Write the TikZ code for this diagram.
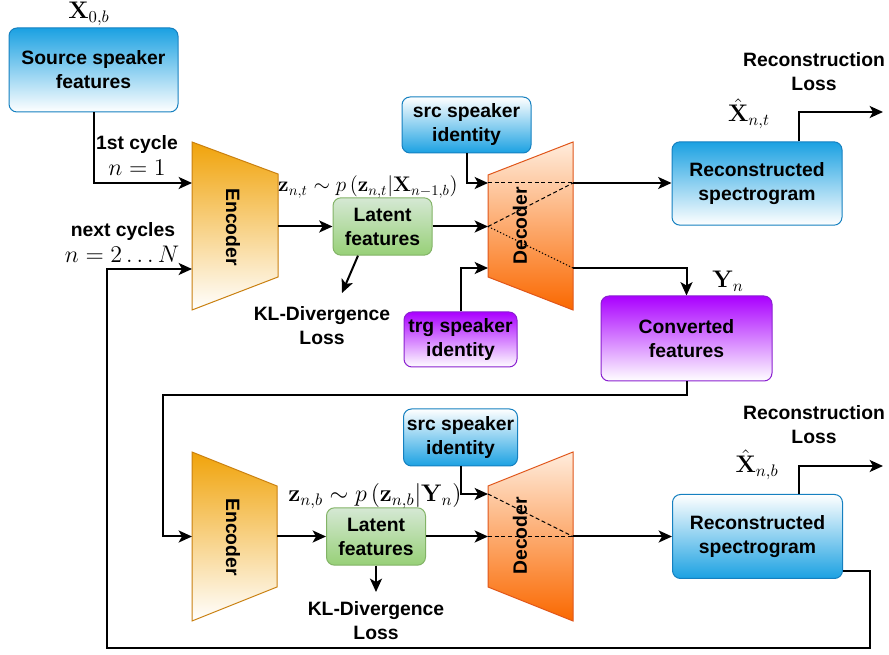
\documentclass[tikz,border=0pt]{standalone}
\usepackage[no-math]{fontspec}
\setmainfont{Liberation Sans}
\usetikzlibrary{arrows.meta,calc}
\definecolor{cblue}{HTML}{1BA1E2}
\definecolor{sblue}{HTML}{1580C0}
\definecolor{corange}{HTML}{F0A30A}
\definecolor{sorange}{HTML}{C98010}
\definecolor{cdec}{HTML}{FA6800}
\definecolor{cdectop}{HTML}{FFECDC}
\definecolor{sdec}{HTML}{E0561A}
\definecolor{cgreentop}{HTML}{D5E8D4}
\definecolor{cgreen}{HTML}{97D077}
\definecolor{sgreen}{HTML}{82B366}
\definecolor{cpurple}{HTML}{AA00FF}
\definecolor{spurple}{HTML}{8A20D0}
\newcommand{\mylargemath}[1]{\scalebox{1.25}{$#1$}}
\newcommand{\mymidmath}[1]{\scalebox{1.1}{$#1$}}
\begin{document}
\begin{tikzpicture}[x=0.75pt,y=-0.75pt,line width=1.5pt,
  txt/.style={font=\fontsize{14.5}{18}\selectfont\bfseries, align=center, inner sep=0pt},
  mth/.style={font=\fontsize{14.4}{18}\selectfont, inner sep=0pt},
  box/.style={txt, rounded corners=6pt, draw, line width=0.75pt},
  bluedown/.style={box, top color=cblue, bottom color=white, draw=sblue},
  blueup/.style={box, top color=white, bottom color=cblue, draw=sblue},
  purpledown/.style={box, top color=cpurple, bottom color=white, draw=spurple},
  greenbox/.style={box, top color=cgreentop, bottom color=cgreen, draw=sgreen,
    minimum width=74.25pt, minimum height=43pt},
  encshape/.style={top color=corange, bottom color=white, draw=sorange, line width=0.75pt},
  decshape/.style={top color=cdectop, bottom color=cdec, draw=sdec, line width=0.75pt},
  arr/.style={-{Stealth[length=10pt,width=9pt,inset=2.5pt]}},
  dsh/.style={line width=0.75pt, dash pattern=on 3pt off 2pt},
  dtt/.style={line width=0.75pt, dash pattern=on 1pt off 1.5pt}]
\useasboundingbox (0,0) rectangle (889,655);

% ---------- boxes ----------
\node[bluedown, minimum width=126.75pt, minimum height=63pt] (srcfeat) at (93.5,70) {Source speaker\\features};
\node[bluedown, minimum width=127.5pt, minimum height=62.5pt] (recon1) at (757,183.5) {Reconstructed\\spectrogram};
\node[purpledown, minimum width=128.25pt, minimum height=63.75pt] (conv) at (686.5,338.5) {Converted\\features};
\node[blueup, minimum width=127.5pt, minimum height=63pt] (recon2) at (757.5,536.5) {Reconstructed\\spectrogram};
\node[blueup, minimum width=96.75pt, minimum height=42pt] (srcid1) at (466.5,125) {src speaker\\identity};
\node[purpledown, minimum width=84.75pt, minimum height=41.25pt] (trgid) at (460.5,339.5) {trg speaker\\identity};
\node[blueup, minimum width=85.5pt, minimum height=42.75pt] (srcid2) at (460.5,437.5) {src speaker\\identity};
\node[greenbox] (lat1) at (382.5,226.5) {Latent\\features};
\node[greenbox] (lat2) at (376,536.5) {Latent\\features};

% ---------- encoders / decoders ----------
\path[encshape] (192,142) -- (278,174) -- (278,277) -- (192,310) -- cycle;
\node[txt, rotate=-90] (enc1) at (233,227) {Encoder};
\path[encshape] (192,452) -- (277,486) -- (277,587) -- (192,621) -- cycle;
\node[txt, rotate=-90] (enc2) at (233,537) {Encoder};
\path[decshape] (488,175) -- (573,142) -- (573,310) -- (488,277) -- cycle;
\node[txt, rotate=90] (dec1) at (520,226) {Decoder};
\path[decshape] (488,486) -- (573,452) -- (573,621) -- (488,587) -- cycle;
\node[txt, rotate=90] (dec2) at (520,536) {Decoder};

% ports
\coordinate (e1a) at (192,183);
\coordinate (e1b) at (192,269);
\coordinate (e1o) at (278,226.5);
\coordinate (e2i) at (192,536.5);
\coordinate (e2o) at (277,536.5);
\coordinate (d1a) at (488,183);
\coordinate (d1b) at (488,226.5);
\coordinate (d1c) at (488,268);
\coordinate (d1oa) at (573,183);
\coordinate (d1ob) at (573,268);
\coordinate (d2a) at (488,494);
\coordinate (d2b) at (488,536.5);
\coordinate (d2o) at (573,536.5);
\coordinate (loopc) at (163,395);
\coordinate (loopr) at (870,648);
\coordinate (loopl) at (107,648);
\coordinate (rl1) at (883,112);
\coordinate (rl2) at (883,466);
\coordinate (kl1a) at (342,293);
\coordinate (kl2a) at (376,592);

% internal dashed lines
\draw[dsh] (d1a) -- (d1oa);
\draw[dsh] (d1b) -- (d1oa);
\draw[dtt] (d1b) -- (d1ob);
\draw[dsh] (d2a) -- (d2o);
\draw[dsh] (d2b) -- (d2o);

% ---------- labels ----------
\node[mth] (x0b) at (89,14) {\mylargemath{\mathbf{X}_{0,b}}};
\node[txt] (c1) at (137,145) {1st cycle};
\node[mth] (n1) at (137,168) {\mylargemath{n=1}};
\node[txt] (cn) at (123,232) {next cycles};
\node[mth] (nN) at (122,254) {\mylargemath{n=2\ldots N}};
\node[mth] (z1) at (368,187) {\mymidmath{\mathbf{z}_{n,t}\sim p\left(\mathbf{z}_{n,t}|\mathbf{X}_{n-1,b}\right)}};
\node[txt] (kl1) at (322,326) {KL-Divergence\\Loss};
\node[txt] (rloss1) at (814,72) {Reconstruction\\Loss};
\node[mth] (xh1) at (749,114) {\mylargemath{\hat{\mathbf{X}}_{n,t}}};
\node[mth] (yn) at (728,281) {\mylargemath{\mathbf{Y}_n}};
\node[mth] (z2) at (375,496) {\mylargemath{\mathbf{z}_{n,b}\sim p\left(\mathbf{z}_{n,b}|\mathbf{Y}_{n}\right)}};
\node[txt] (kl2) at (376,621) {KL-Divergence\\Loss};
\node[txt] (rloss2) at (814,425) {Reconstruction\\Loss};
\node[mth] (xh2) at (757,465) {\mylargemath{\hat{\mathbf{X}}_{n,b}}};

% ---------- connectors ----------
\draw[arr] (srcfeat.south) |- (e1a);
\draw[arr] (recon2.-22.4) -| (loopr) -- (loopl) |- (e1b);
\draw[arr] (e1o) -- (lat1.west);
\draw[arr] (lat1.east) -- (d1b);
\draw[arr] ($(lat1.south)+(-24.5,0)$) -- (kl1a);
\draw[arr] (srcid1.south) |- (d1a);
\draw[arr] (trgid.north) |- (d1c);
\draw[arr] (d1oa) -- (recon1.west |- d1oa);
\draw[arr] (d1ob) -| (conv.north);
\draw[arr] ($(recon1.north)+(42,0)$) |- (rl1);
\draw[arr] (conv.south) |- (loopc) |- (e2i);
\draw[arr] (e2o) -- (lat2.west);
\draw[arr] (lat2.east) -- (d2b);
\draw[arr] (lat2.south) -- (kl2a);
\draw[arr] (srcid2.south) |- (d2a);
\draw[arr] (d2o) -- (recon2.west);
\draw[arr] ($(recon2.north)+(41.5,0)$) |- (rl2);
\end{tikzpicture}
\end{document}
